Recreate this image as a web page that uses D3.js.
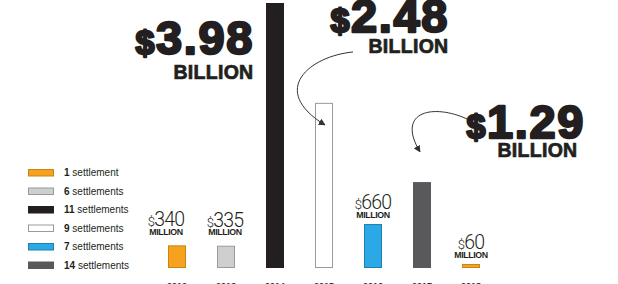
<!DOCTYPE html>
<html>
<head>
<meta charset="utf-8">
<script src="https://cdn.jsdelivr.net/npm/d3@7"></script>
<style>
  html, body { margin: 0; padding: 0; background: #fff; }
  svg { display: block; font-family: "Liberation Sans", Arial, sans-serif; }
</style>
</head>
<body>
<div id="chart"></div>
<script>
// Data
const years = ["2012", "2013", "2014", "2015", "2016", "2017", "2018"];
const amounts = [340, 335, 3980, 2480, 660, 1290, 60]; // millions of dollars
const settlements = [1, 6, 11, 9, 7, 14, 1];
const legendCounts = [1, 6, 11, 9, 7, 14];

// Settings
const width = 618;
const height = 284;
const baseY = 268;
const barWidth = 18;

const fillColor = d3.scaleOrdinal()
  .domain(legendCounts)
  .range(["#f6a21e", "#cfcfd0", "#231f20", "#ffffff", "#2aa9e6", "#59595b"]);
const strokeColor = d3.scaleOrdinal()
  .domain(legendCounts)
  .range(["#c98514", "#9a9a9a", "#231f20", "#9a9a9a", "#1f7fb0", "#59595b"]);

const svg = d3.select("#chart")
  .append("svg")
  .attr("width", width)
  .attr("height", height);

// Scales
const x = d3.scalePoint().domain(years).range([177, 471]);
const y = d3.scaleLinear().domain([0, d3.max(amounts)]).range([baseY, 3]);

const rows = years.map((yr, i) => ({ year: yr, amount: amounts[i], count: settlements[i] }));

// Bars
svg.selectAll("rect.bar")
  .data(rows)
  .enter()
  .append("rect")
  .attr("class", "bar")
  .attr("x", (d) => x(d.year) - barWidth / 2 + 0.5)
  .attr("y", (d) => y(d.amount) + 0.5)
  .attr("width", barWidth - 1)
  .attr("height", (d) => baseY - y(d.amount) - 1)
  .attr("fill", (d) => fillColor(d.count))
  .attr("stroke", (d) => strokeColor(d.count))
  .attr("stroke-width", 1);

// Year labels (mostly clipped by the bottom edge)
svg.selectAll("text.year")
  .data(rows)
  .enter()
  .append("text")
  .attr("class", "year")
  .attr("x", (d) => x(d.year))
  .attr("y", 289)
  .attr("text-anchor", "middle")
  .style("font-size", "9px")
  .style("font-weight", "bold")
  .attr("fill", "#333")
  .text((d) => d.year);

// Million labels
const smallShift = { "2012": [-11, -4], "2013": [-1, -4] };
const small = rows.filter((d) => d.amount < 1000);
const smallLabel = svg.selectAll("g.small")
  .data(small)
  .enter()
  .append("g")
  .attr("class", "small")
  .attr("transform", (d) => {
    const s = smallShift[d.year] || [0, 0];
    return "translate(" + (x(d.year) + s[0]) + "," + (y(d.amount) + s[1]) + ")";
  });

const num = smallLabel.append("text")
  .attr("y", -15)
  .attr("text-anchor", "middle")
  .attr("fill", "#231f20")
  .style("font-family", "Roboto, 'Liberation Sans', sans-serif")
  .style("font-size", "19.5px")
  .style("font-weight", "300")
  .style("letter-spacing", "-0.8px");
num.append("tspan").style("font-size", "13px").text("$");
num.append("tspan").text((d) => d.amount);

smallLabel.append("text")
  .attr("y", -6.5)
  .attr("text-anchor", "middle")
  .attr("fill", "#231f20")
  .style("font-size", "8.8px")
  .style("font-weight", "bold")
  .style("letter-spacing", "-0.4px")
  .text("MILLION");

// Billion labels
const bigPos = {
  "2014": { x: 253, y: 54, dx: 0, dy: 25 },
  "2015": { x: 448, y: 32, dx: 0, dy: 21 },
  "2017": { x: 584, y: 138, dx: -7, dy: 19 },
};
const big = rows.filter((d) => d.amount >= 1000);
const bigLabel = svg.selectAll("g.big")
  .data(big)
  .enter()
  .append("g")
  .attr("class", "big")
  .attr("transform", (d) => "translate(" + bigPos[d.year].x + "," + bigPos[d.year].y + ")");

const bigNum = bigLabel.append("text")
  .attr("x", 1)
  .attr("text-anchor", "end")
  .attr("fill", "#231f20")
  .attr("stroke", "#231f20")
  .attr("stroke-width", 2.4)
  .attr("stroke-linejoin", "round")
  .style("font-size", "47px")
  .style("font-weight", "bold")
  .style("letter-spacing", "1.6px");
bigNum.append("tspan").style("font-size", "34px").text("$");
bigNum.append("tspan").text((d) => d3.format(".2f")(d.amount / 1000));

bigLabel.append("text")
  .attr("x", (d) => bigPos[d.year].dx + 0.5)
  .attr("y", (d) => bigPos[d.year].dy)
  .attr("text-anchor", "end")
  .attr("fill", "#231f20")
  .attr("stroke", "#231f20")
  .attr("stroke-width", 0.7)
  .style("font-size", "19.5px")
  .style("font-weight", "bold")
  .style("letter-spacing", "0.3px")
  .text("BILLION");

// Curved arrows
svg.append("defs")
  .append("marker")
  .attr("id", "head")
  .attr("viewBox", "0 0 10 10")
  .attr("refX", 9)
  .attr("refY", 5)
  .attr("markerWidth", 7)
  .attr("markerHeight", 7)
  .attr("markerUnits", "userSpaceOnUse")
  .attr("orient", "auto")
  .append("path")
  .attr("d", "M0,0 L10,5 L0,10 Z")
  .attr("fill", "#333");

const arrow1 = d3.path();
arrow1.moveTo(353, 52);
arrow1.bezierCurveTo(310, 56, 268, 90, x("2015") + 1, 125);
const arrow2 = d3.path();
arrow2.moveTo(467, 119);
arrow2.bezierCurveTo(435, 104, 395, 110, x("2017") - 2, 152);

svg.selectAll("path.arrow")
  .data([arrow1.toString(), arrow2.toString()])
  .enter()
  .append("path")
  .attr("class", "arrow")
  .attr("d", (d) => d)
  .attr("fill", "none")
  .attr("stroke", "#333")
  .attr("stroke-width", 1)
  .attr("marker-end", "url(#head)");

// Legend
const legend = svg.append("g").attr("id", "legend");
const item = legend.selectAll("g")
  .data(legendCounts)
  .enter()
  .append("g")
  .attr("transform", (d, i) => "translate(28," + (172.5 + i * 18.5) + ")");

item.append("rect")
  .attr("x", 0.5)
  .attr("y", -3)
  .attr("width", 25)
  .attr("height", 6.5)
  .attr("fill", (d) => fillColor(d))
  .attr("stroke", (d) => strokeColor(d))
  .attr("stroke-width", 1);

const legendText = item.append("text")
  .attr("x", 36)
  .attr("y", 3.5)
  .attr("fill", "#231f20")
  .style("font-size", "10px");
legendText.append("tspan").style("font-weight", "bold").text((d) => d);
legendText.append("tspan").text((d) => (d === 1 ? " settlement" : " settlements"));
</script>
</body>
</html>
